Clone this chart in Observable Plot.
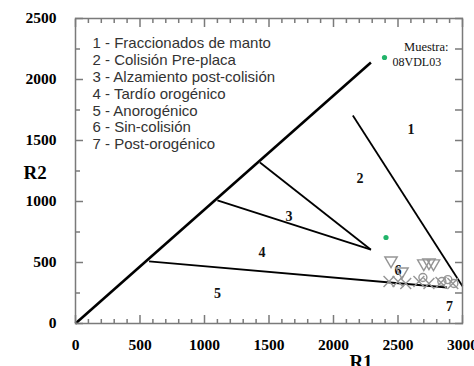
<!DOCTYPE html>
<html><head><meta charset="utf-8">
<script src="https://cdn.jsdelivr.net/npm/d3@7"></script>
<script src="https://cdn.jsdelivr.net/npm/@observablehq/plot@0.6"></script>
<style>html,body{margin:0;padding:0;background:#fff;overflow:hidden}#chart svg{display:block}</style>
</head><body><div id="chart"></div>
<script>
// ---- data ----
const legendLines = [
  "1 - Fraccionados de manto",
  "2 - Colisión Pre-placa",
  "3 - Alzamiento post-colisión",
  "4 - Tardío orogénico",
  "5 - Anorogénico",
  "6 - Sin-colisión",
  "7 - Post-orogénico"
];
const majorX = [0, 500, 1000, 1500, 2000, 2500, 3000];
const minorX = [100,200,300,400,600,700,800,900,1100,1200,1300,1400,1600,1700,1800,1900,2100,2200,2300,2400,2600,2700,2800,2900];
const majorY = [0, 500, 1000, 1500, 2000, 2500];
const minorY = [250, 750, 1250, 1750, 2250];

// field boundaries (R1, R2)
const diagX = [0, 2290];
const diagY = [0, 2140];
const boundaryX1 = [570, 1100, 1430, 2150];
const boundaryY1 = [510, 1010, 1320, 1705];
const boundaryX2 = [2880, 2290, 2290, 3000];
const boundaryY2 = [295, 605, 605, 305];

// field numbers
const zoneLabels = ["1", "2", "3", "4", "5", "6", "7"];
const zoneX = [2600, 2205, 1655, 1445, 1100, 2500, 2900];
const zoneY = [1590, 1190, 880, 585, 245, 435, 140];

// sample
const sampleName = "08VDL03";
const sampleR1 = [2407];
const sampleR2 = [705];

// reference granitoids (grey symbols)
const triR1 = [2446, 2531, 2700, 2740, 2775];
const triR2 = [516, 426, 492, 500, 492];
const crossR1 = [2430, 2500, 2560, 2662, 2740, 2833, 2925];
const crossR2 = [344, 344, 328, 344, 328, 336, 328];
const circR1 = [2693, 2840, 2886, 2933];
const circR2 = [377, 344, 360, 328];

// ---- chart ----
const green = "#22b46a";
const grey = "#959595";
const frameGrey = "#7a7a7a";
const serif = "'Liberation Serif', 'Times New Roman', serif";
const sans = "'Liberation Sans', Arial, sans-serif";
const fmt = d => String(d);

const segs = boundaryX1.map((x1, i) => ({x1, y1: boundaryY1[i], x2: boundaryX2[i], y2: boundaryY2[i]}));
const diag = [{x1: diagX[0], y1: diagY[0], x2: diagX[1], y2: diagY[1]}];

const tickStyle = {fill: "none", stroke: frameGrey, strokeWidth: 1.5, label: null};

const chart = Plot.plot({
  width: 474,
  height: 366,
  marginLeft: 75,
  marginRight: 12,
  marginTop: 18,
  marginBottom: 43,
  x: {domain: [0, 3000]},
  y: {domain: [0, 2500]},
  style: {background: "#fff", overflow: "visible", color: "#000"},
  marks: [
    // tick labels
    Plot.axisX(majorX, {anchor: "bottom", tickSize: 0, tickPadding: 15, tickFormat: fmt, label: null, fontFamily: serif, fontSize: 15.5, fontWeight: "bold", fill: "#000"}),
    Plot.axisY(majorY, {anchor: "left", tickSize: 0, tickPadding: 19, tickFormat: fmt, label: null, fontFamily: serif, fontSize: 15.5, fontWeight: "bold", fill: "#000"}),
    // axis titles
    Plot.text(["R1"], {frameAnchor: "bottom", dx: 92, dy: 31, lineAnchor: "top", fontFamily: serif, fontSize: 19, fontWeight: "bold", fill: "#000"}),
    Plot.text(["R2"], {frameAnchor: "left", dx: -52, dy: 2, fontFamily: serif, fontSize: 19, fontWeight: "bold", fill: "#000"}),
    // boundaries
    Plot.link(diag, {x1: "x1", y1: "y1", x2: "x2", y2: "y2", stroke: "#000", strokeWidth: 2.6}),
    Plot.link(segs, {x1: "x1", y1: "y1", x2: "x2", y2: "y2", stroke: "#000", strokeWidth: 1.8}),
    // field numbers
    Plot.text(zoneLabels, {x: (d, i) => zoneX[i], y: (d, i) => zoneY[i], text: d => d, fontFamily: serif, fontSize: 14, fontWeight: "bold", fill: "#111"}),
    // legend text
    Plot.text([legendLines.join("\n")], {frameAnchor: "top-left", dx: 17, dy: 18, textAnchor: "start", lineAnchor: "top", lineHeight: 1.12, fontFamily: sans, fontSize: 15, fill: "#333"}),
    // grey reference symbols
    Plot.dot(triR1, {x: d => d, y: (d, i) => triR2[i], symbol: "triangle", rotate: 180, r: 4.6, stroke: grey, strokeWidth: 1.4, fill: "none"}),
    Plot.dot(crossR1, {x: d => d, y: (d, i) => crossR2[i], symbol: "times", r: 5, stroke: grey, strokeWidth: 1.4}),
    Plot.dot(circR1, {x: d => d, y: (d, i) => circR2[i], symbol: "circle", r: 4, stroke: grey, strokeWidth: 1.4, fill: "none"}),
    // sample
    Plot.dot(sampleR1, {x: d => d, y: (d, i) => sampleR2[i], r: 2.6, fill: green, stroke: "none"}),
    Plot.text(["Muestra:"], {frameAnchor: "top-right", dx: -14, dy: 24, textAnchor: "end", fontFamily: serif, fontSize: 12.5, fill: "#111"}),
    Plot.text([sampleName], {frameAnchor: "top-right", dx: -70, dy: 39, textAnchor: "start", fontFamily: serif, fontSize: 12, fill: "#111"}),
    Plot.dot([sampleName], {frameAnchor: "top-right", dx: -78, dy: 39, r: 2.6, fill: green, stroke: "none"}),
    // frame and inward ticks (drawn outward, then shifted inside the frame)
    Plot.frame({stroke: frameGrey, strokeWidth: 1.5}),
    Plot.axisX(majorX, {anchor: "bottom", tickSize: 8, dy: -8, ...tickStyle}),
    Plot.axisX(minorX, {anchor: "bottom", tickSize: 4, dy: -4, ...tickStyle}),
    Plot.axisX(majorX, {anchor: "top", tickSize: 8, dy: 8, ...tickStyle}),
    Plot.axisX(minorX, {anchor: "top", tickSize: 4, dy: 4, ...tickStyle}),
    Plot.axisY(majorY, {anchor: "left", tickSize: 8, dx: 8, ...tickStyle}),
    Plot.axisY(minorY, {anchor: "left", tickSize: 5, dx: 5, ...tickStyle}),
    Plot.axisY(majorY, {anchor: "right", tickSize: 8, dx: -8, ...tickStyle}),
    Plot.axisY(minorY, {anchor: "right", tickSize: 8, dx: -8, ...tickStyle})
  ]
});
document.getElementById("chart").appendChild(chart);
</script>
</body></html>
